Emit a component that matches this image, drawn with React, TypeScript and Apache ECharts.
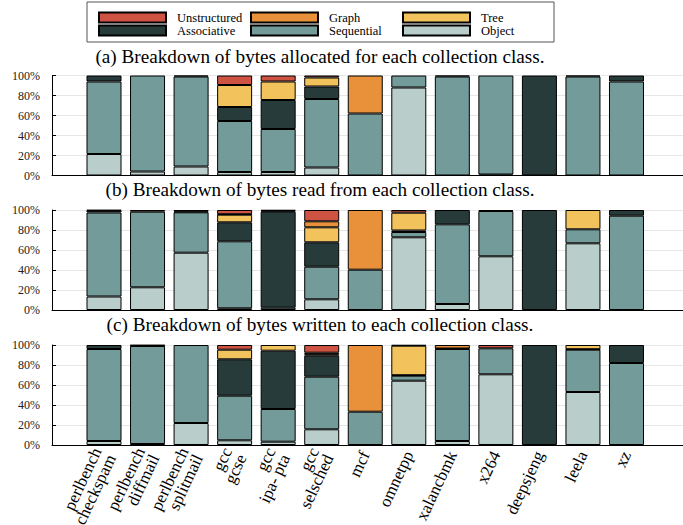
import React, { useEffect, useRef } from 'react';
import * as echarts from 'echarts';

const benchmarks = [
  'perlbench\ncheckspam', 'perlbench\ndiffmail', 'perlbench\nsplitmail',
  'gcc\ngcse', 'gcc\nipa- pta', 'gcc\nselsched', 'mcf', 'omnetpp',
  'xalancbmk', 'x264', 'deepsjeng', 'leela', 'xz',
];

const classNames = ['Object', 'Sequential', 'Associative', 'Tree', 'Graph', 'Unstructured'];
const classColors = ['#b9cdcb', '#739b9a', '#283b3b', '#f2c25c', '#e8913a', '#cf5343'];

const panelTitles = [
  '(a) Breakdown of bytes allocated for each collection class.',
  '(b) Breakdown of bytes read from each collection class.',
  '(c) Breakdown of bytes written to each collection class.',
];

// (a) allocated
const allocObject = [21.5, 4, 9, 3.5, 3.5, 8, 0, 88, 0, 1, 0, 0, 0];
const allocSequential = [72.5, 96, 90, 51, 43, 68.5, 62, 12, 99, 99, 0, 99, 94];
const allocAssociative = [6, 0, 1, 14, 29, 12.5, 0, 0, 1, 0, 100, 1, 6];
const allocTree = [0, 0, 0, 22, 18.5, 9, 0, 0, 0, 0, 0, 0, 0];
const allocGraph = [0, 0, 0, 0, 0, 0, 38, 0, 0, 0, 0, 0, 0];
const allocUnstructured = [0, 0, 0, 9.5, 6, 2, 0, 0, 0, 0, 0, 0, 0];

// (b) read
const readObject = [13.5, 22.7, 57.3, 1.7, 0, 10.7, 0, 72.7, 6, 53.7, 0, 66.7, 0];
const readSequential = [84, 75.6, 40.4, 67, 2.3, 32.6, 40.3, 5.3, 79.7, 45.3, 0, 14, 94.3];
const readAssociative = [2, 0, 0.8, 19, 96, 24.4, 0, 1.5, 14.3, 1, 100, 0, 5.7];
const readTree = [0, 0, 0, 7.6, 1, 15, 0, 17.8, 0, 0, 0, 19.3, 0];
const readGraph = [0, 0, 1.5, 0.5, 0.7, 6, 59.7, 0, 0, 0, 0, 0, 0];
const readUnstructured = [0.5, 1.7, 0, 4.2, 0, 11.3, 0, 2.7, 0, 0, 0, 0, 0];

// (c) written
const writeObject = [4, 1, 22, 4.7, 3.3, 15.7, 0, 64.3, 4, 70.7, 0, 53, 0];
const writeSequential = [92, 98, 78, 44.6, 32.7, 52.6, 33.3, 5, 92, 26, 0, 42.3, 82];
const writeAssociative = [4, 0.5, 0, 36.4, 58.3, 21, 0, 0.5, 0.5, 0, 100, 0.5, 18];
const writeTree = [0, 0, 0, 9.6, 5.7, 1.5, 0, 29.5, 0, 0, 0, 4.2, 0];
const writeGraph = [0, 0, 0, 0, 0, 1.5, 66.7, 0, 3.5, 0, 0, 0, 0];
const writeUnstructured = [0, 0.5, 0, 4.7, 0, 7.7, 0, 0.7, 0, 3.3, 0, 0, 0];

const panels = [
  [allocObject, allocSequential, allocAssociative, allocTree, allocGraph, allocUnstructured],
  [readObject, readSequential, readAssociative, readTree, readGraph, readUnstructured],
  [writeObject, writeSequential, writeAssociative, writeTree, writeGraph, writeUnstructured],
];

const FONT = 'Liberation Serif, Times New Roman, Times, serif';

export default function App() {
  const ref = useRef<HTMLDivElement>(null);

  useEffect(() => {
    if (!ref.current) return;
    const chart = echarts.init(ref.current, undefined, { renderer: 'svg' });

    const tops = [75.5, 210, 345];
    const titleY = [56, 189, 324];
    const grids: any[] = [];
    const xAxes: any[] = [];
    const yAxes: any[] = [];
    const series: any[] = [];

    tops.forEach((top, k) => {
      grids.push({ left: 52, right: 0, top, height: 100, outerBoundsMode: 'none', containLabel: false });
      grids.push({ left: 82.23, right: 34.73, top, height: 100, outerBoundsMode: 'none', containLabel: false });

      xAxes.push({
        gridIndex: 2 * k, type: 'value', min: 0, max: 1,
        axisLine: { show: true, lineStyle: { color: '#000', width: 1 } },
        axisTick: { show: false }, axisLabel: { show: false }, splitLine: { show: false },
      });
      xAxes.push({
        gridIndex: 2 * k + 1, type: 'category', data: benchmarks,
        axisLine: { show: false }, axisTick: { show: false },
        axisLabel: {
          show: k === 2, interval: 0, rotate: 65, margin: 7,
          fontSize: 17, lineHeight: 16, fontFamily: FONT, color: '#000',
          hideOverlap: false,
        },
        splitLine: { show: false },
      });
      yAxes.push({
        gridIndex: 2 * k, type: 'value', min: 0, max: 100, interval: 20,
        axisLine: { show: true, lineStyle: { color: '#000', width: 1 } },
        axisTick: { show: true, inside: true, length: 4, lineStyle: { color: '#000' } },
        axisLabel: { formatter: '{value}%', fontSize: 12, fontFamily: FONT, color: '#222', margin: 12 },
        splitLine: { show: true, lineStyle: { color: '#e6e6e6', width: 1 } },
      });
      yAxes.push({ gridIndex: 2 * k + 1, type: 'value', min: 0, max: 100, show: false });

      panels[k].forEach((vals, c) => {
        series.push({
          type: 'bar', name: classNames[c], stack: 'p' + k,
          xAxisIndex: 2 * k + 1, yAxisIndex: 2 * k + 1,
          barWidth: 35,
          data: vals.map((v) => (v === 0 ? '-' : v)),
          itemStyle: { color: classColors[c], borderColor: '#000', borderWidth: 1 },
        });
      });
    });

    const legendCommon = {
      orient: 'vertical', top: 11, itemWidth: 67, itemHeight: 10, itemGap: 0,
      padding: 0, icon: 'rect', selectedMode: false,
      textStyle: { fontSize: 12.5, lineHeight: 12, fontFamily: FONT, color: '#000', padding: [0, 0, 0, 6] },
    };

    const graphic: any[] = [
      { type: 'rect', shape: { x: 87, y: 2, width: 467, height: 40 }, style: { fill: 'none', stroke: '#555', lineWidth: 1 } },
    ];
    panelTitles.forEach((t, k) => {
      graphic.push({
        type: 'text', x: 320, y: titleY[k],
        style: { text: t, fontSize: 19.2, fontFamily: FONT, fill: '#000', align: 'center', verticalAlign: 'middle' },
      });
    });

    chart.setOption({
      animation: false,
      backgroundColor: '#fff',
      textStyle: { fontFamily: FONT },
      grid: grids,
      xAxis: xAxes,
      yAxis: yAxes,
      series,
      legend: [
        { ...legendCommon, left: 98, data: ['Unstructured', 'Associative'] },
        { ...legendCommon, left: 250, data: ['Graph', 'Sequential'] },
        { ...legendCommon, left: 402, data: ['Tree', 'Object'] },
      ],
      graphic,
    });

    return () => chart.dispose();
  }, []);

  return (
    <div
      ref={ref}
      style={{ position: 'fixed', left: 0, top: 0, width: 683, height: 525, background: '#fff' }}
    />
  );
}
